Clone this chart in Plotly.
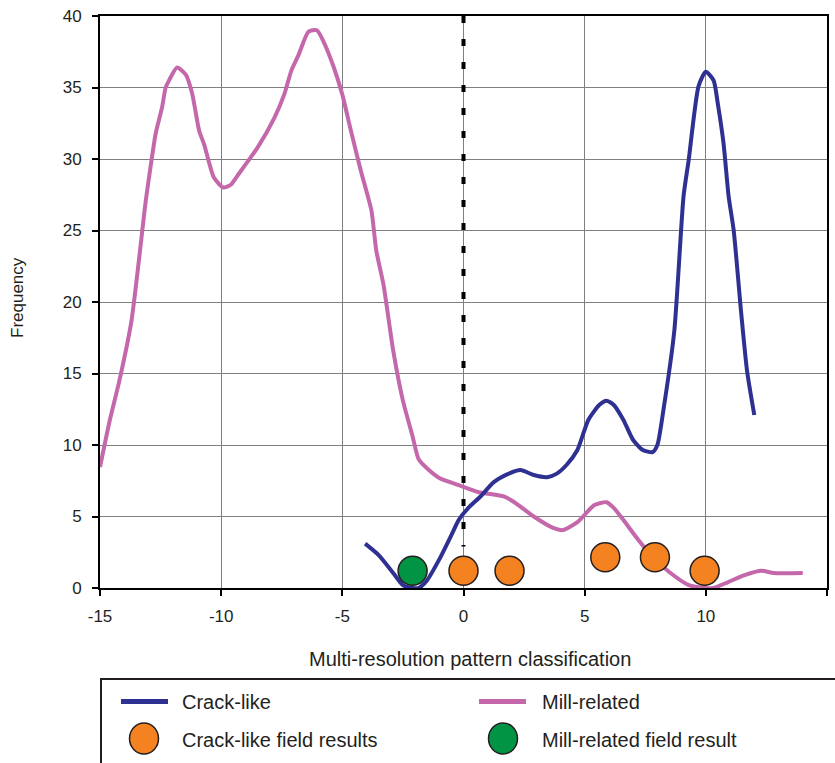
import plotly.graph_objects as go

# Mill-related frequency curve
mill_x = [-15, -14.6, -14.2, -13.7, -13.11, -12.91, -12.70, -12.44, -12.29, -12.15,
          -11.82, -11.46, -11.2, -10.91, -10.7, -10.3, -9.9, -9.6, -9.3, -8.5,
          -7.8, -7.4, -7.1, -6.8, -6.4, -6.05, -5.8, -5.35, -5.0, -4.65,
          -4.24, -3.8, -3.6, -3.3, -2.9, -2.5, -2.1, -1.85, -1.43, -1.0,
          -0.2, 0.63, 1.66, 2.1, 2.9, 3.7, 4.1, 4.7, 5.4, 5.9,
          6.2, 6.6, 7.2, 7.85, 8.5, 9.3, 10.0, 10.3, 10.9, 11.6,
          12.3, 12.8, 14.0]
mill_y = [8.46, 11.7, 14.5, 18.7, 27.1, 29.5, 31.8, 33.6, 35.0, 35.5,
          36.4, 35.9, 34.6, 32.0, 31.0, 28.7, 28.0, 28.2, 28.9, 30.8,
          32.9, 34.5, 36.2, 37.3, 38.9, 39.0, 38.3, 36.4, 34.5, 32.0,
          29.2, 26.4, 23.6, 21.2, 16.6, 13.1, 10.6, 9.0, 8.25, 7.7,
          7.2, 6.7, 6.4, 6.0, 5.0, 4.2, 4.05, 4.6, 5.8, 6.0,
          5.6, 4.75, 3.4, 2.1, 1.1, 0.2, 0.0, 0.0, 0.4, 0.9,
          1.2, 1.05, 1.05]

# Crack-like frequency curve
crack_x = [-4.06, -3.5, -2.9, -2.5, -2.1, -1.85, -1.5, -1.0, -0.5, -0.2,
           0.2, 0.7, 1.25, 1.87, 2.35, 2.9, 3.45, 3.85, 4.25, 4.7,
           5.15, 5.6, 5.9, 6.2, 6.6, 7.0, 7.4, 7.8, 8.0, 8.25,
           8.7, 9.08, 9.29, 9.7, 10.0, 10.32, 10.5, 10.73, 10.94, 11.15,
           11.45, 11.7, 12.0]
crack_y = [3.1, 2.3, 1.05, 0.2, 0.0, 0.0, 0.55, 2.0, 3.7, 4.75,
           5.6, 6.4, 7.4, 8.0, 8.25, 7.9, 7.75, 8.0, 8.6, 9.65,
           11.75, 12.8, 13.1, 12.8, 11.75, 10.35, 9.65, 9.5, 10.0, 12.45,
           18.0, 27.4, 29.9, 35.1, 36.1, 35.5, 33.8, 31.1, 27.4, 25.0,
           19.4, 15.2, 12.1]

# Field results
crack_field_x = [0.0, 1.9, 5.85, 7.9, 9.95]
crack_field_y = [1.2, 1.2, 2.15, 2.15, 1.2]
mill_field_x = [-2.1]
mill_field_y = [1.2]

# Decision boundary
boundary_x = [0, 0]
boundary_y = [40, 2.9]

x_ticks = [-15, -10, -5, 0, 5, 10, 15]
x_tick_text = ["-15", "-10", "-5", "0", "5", "10", "15"]
y_ticks = [0, 5, 10, 15, 20, 25, 30, 35, 40]

BLUE = "#2e3192"
PINK = "#c468ab"
ORANGE = "#f58220"
GREEN = "#009444"
INK = "#231f20"
FONT = "Liberation Sans, Arial, sans-serif"

fig = go.Figure()

fig.add_trace(go.Scatter(
    x=boundary_x, y=boundary_y, mode="lines",
    line=dict(color="black", width=4, dash="7px,16px"),
    showlegend=False, hoverinfo="skip"))

fig.add_trace(go.Scatter(
    x=mill_x, y=mill_y, mode="lines", name="Mill-related",
    line=dict(color=PINK, width=4, shape="spline", smoothing=0.6),
    showlegend=False))

fig.add_trace(go.Scatter(
    x=crack_x, y=crack_y, mode="lines", name="Crack-like",
    line=dict(color=BLUE, width=4, shape="spline", smoothing=0.6),
    showlegend=False))

fig.add_trace(go.Scatter(
    x=crack_field_x, y=crack_field_y, mode="markers", name="Crack-like field results",
    marker=dict(symbol="circle", size=29, color=ORANGE, line=dict(color=INK, width=1.5)),
    showlegend=False))

fig.add_trace(go.Scatter(
    x=mill_field_x, y=mill_field_y, mode="markers", name="Mill-related field result",
    marker=dict(symbol="circle", size=29, color=GREEN, line=dict(color=INK, width=1.5)),
    showlegend=False))

axis_common = dict(
    showgrid=True, gridcolor="#808080", gridwidth=1,
    showline=True, linecolor="black", linewidth=2, mirror=True,
    zeroline=False, ticks="outside", ticklen=6, tickwidth=1.5, tickcolor="black",
    tickfont=dict(family=FONT, size=17, color=INK), automargin=False,
)

fig.update_xaxes(range=[-15, 15], tickvals=x_ticks, ticktext=x_tick_text,
                 ticklabelstandoff=6, **axis_common)
fig.update_yaxes(range=[0, 40], tickvals=y_ticks, ticklabelstandoff=7, **axis_common)


def px_x(p):
    return (p - 100) / 727.0


def px_y(p):
    return (588 - p) / 572.0


shapes = [
    # legend frame
    dict(type="rect", xref="paper", yref="paper",
         x0=px_x(101), x1=px_x(850), y0=px_y(679), y1=px_y(780),
         line=dict(color=INK, width=2), fillcolor="rgba(0,0,0,0)", layer="above"),
    dict(type="line", xref="paper", yref="paper",
         x0=px_x(121), x1=px_x(168), y0=px_y(701.5), y1=px_y(701.5),
         line=dict(color=BLUE, width=5)),
    dict(type="line", xref="paper", yref="paper",
         x0=px_x(479), x1=px_x(526), y0=px_y(701.5), y1=px_y(701.5),
         line=dict(color=PINK, width=5)),
    dict(type="circle", xref="paper", yref="paper",
         x0=px_x(129.5), x1=px_x(158.5), y0=px_y(723), y1=px_y(754),
         fillcolor=ORANGE, line=dict(color=INK, width=1.5)),
    dict(type="circle", xref="paper", yref="paper",
         x0=px_x(488.5), x1=px_x(517.5), y0=px_y(723), y1=px_y(754),
         fillcolor=GREEN, line=dict(color=INK, width=1.5)),
]

ann_font = dict(family=FONT, size=20, color=INK)
annotations = [
    dict(text="Multi-resolution pattern classification", xref="paper", yref="paper",
         x=px_x(470), y=px_y(659), xanchor="center", yanchor="middle",
         showarrow=False, font=ann_font),
    dict(text="Frequency", xref="paper", yref="paper",
         x=px_x(17), y=px_y(298), xanchor="center", yanchor="middle",
         textangle=-90, showarrow=False, font=dict(family=FONT, size=17, color=INK)),
    dict(text="Crack-like", xref="paper", yref="paper",
         x=px_x(180), y=px_y(701.5), xanchor="left", yanchor="middle",
         showarrow=False, font=ann_font),
    dict(text="Mill-related", xref="paper", yref="paper",
         x=px_x(540), y=px_y(701.5), xanchor="left", yanchor="middle",
         showarrow=False, font=ann_font),
    dict(text="Crack-like field results", xref="paper", yref="paper",
         x=px_x(180), y=px_y(740), xanchor="left", yanchor="middle",
         showarrow=False, font=ann_font),
    dict(text="Mill-related field result", xref="paper", yref="paper",
         x=px_x(540), y=px_y(740), xanchor="left", yanchor="middle",
         showarrow=False, font=ann_font),
]

fig.update_layout(
    width=835, height=763,
    margin=dict(l=100, r=8, t=16, b=175),
    paper_bgcolor="white", plot_bgcolor="white",
    showlegend=False,
    shapes=shapes, annotations=annotations,
)

fig.write_html("out.html")
